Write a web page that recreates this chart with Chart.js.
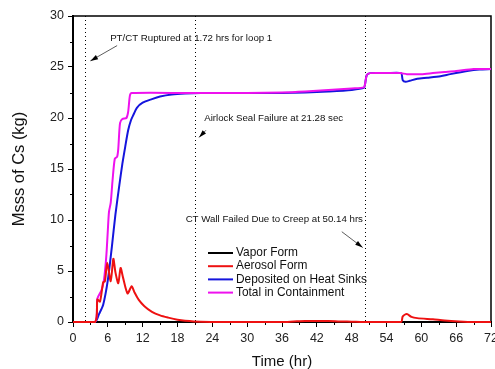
<!DOCTYPE html>
<html>
<head>
<meta charset="utf-8">
<script src="https://cdn.jsdelivr.net/npm/chart.js@4/dist/chart.umd.min.js"></script>
<style>
  html, body { margin: 0; padding: 0; background: #fff; }
  #wrap { width: 495px; height: 369px; }
</style>
</head>
<body>
<div id="wrap"><canvas id="chart-cs"></canvas></div>
<script>
// ── data (time in hr, mass in kg) ──
const vaporT = [0, 72];
const vaporY = [0, 0];

const aerosolT = [0, 3.8, 4.2, 4.65, 5.2, 5.5, 5.9, 6.5, 6.95, 7.3, 7.8, 8.2, 8.6, 9.4, 10.1, 10.6, 11.3, 12.3, 13.6, 15, 16.4, 18, 19.3, 22, 30, 36, 38, 40, 44, 46, 48, 50, 56.5, 56.8, 57.5, 58.3, 59.3, 62, 64, 66.5, 69, 72];
const aerosolY = [0, 0, 2.2, 2.0, 3.9, 4.0, 5.8, 4.0, 6.2, 4.9, 3.8, 5.3, 4.4, 2.8, 3.5, 2.9, 2.2, 1.55, 1.0, 0.65, 0.43, 0.22, 0.12, 0.03, 0, 0, 0.05, 0.1, 0.1, 0.05, 0.03, 0, 0, 0.55, 0.78, 0.5, 0.38, 0.26, 0.15, 0.06, 0, 0];

const depositT = [0, 3.8, 4.5, 5.2, 6.0, 6.7, 7.3, 8.0, 8.5, 9.0, 9.5, 10.0, 10.4, 11, 12, 13.6, 15, 17, 19.3, 22, 30, 36, 40, 44, 48, 50.1, 50.3, 50.6, 51.2, 54, 56.5, 56.8, 57.3, 58, 59.3, 61, 63.3, 65, 67.9, 70, 72];
const depositY = [0, 0, 0.8, 1.7, 4.1, 7.4, 10.5, 13.5, 15.5, 17.2, 18.8, 19.8, 20.3, 21.0, 21.5, 21.85, 22.1, 22.3, 22.4, 22.45, 22.45, 22.45, 22.5, 22.6, 22.75, 22.95, 23.3, 24.2, 24.4, 24.4, 24.4, 23.7, 23.55, 23.65, 23.85, 23.95, 24.1, 24.3, 24.6, 24.75, 24.8];

const totalT = [0, 3.8, 4.2, 4.9, 5.3, 5.6, 5.8, 6.0, 6.2, 6.5, 6.8, 7.2, 7.6, 7.8, 8.1, 8.5, 9.2, 9.5, 9.8, 10.1, 20, 30, 36, 40, 44, 48, 50.1, 50.3, 50.6, 51.2, 54, 56.4, 57.5, 60, 62, 64, 66, 69, 72];
const totalY = [0, 0, 2.3, 3.1, 4.0, 5.5, 7.0, 9.0, 10.8, 11.7, 13.8, 16.0, 16.2, 17.0, 19.5, 19.9, 20.0, 20.6, 22.2, 22.45, 22.45, 22.45, 22.5, 22.6, 22.75, 22.9, 23.0, 23.3, 24.2, 24.4, 24.4, 24.4, 24.3, 24.3, 24.4, 24.5, 24.6, 24.8, 24.8];

const xTicks = [0, 6, 12, 18, 24, 30, 36, 42, 48, 54, 60, 66, 72];
const yTicks = [0, 5, 10, 15, 20, 25, 30];

// event markers (hr) and their notes
const eventTimes = [2.0, 21.1, 50.3];
const notes = [
  { text: 'PT/CT Ruptured at 1.72 hrs for loop 1', x: 6.4, y: 27.8, from: [7.6, 27.1], to: [3.0, 25.6] },
  { text: 'Airlock Seal Failure at 21.28 sec', x: 22.6, y: 20.0, from: [22.9, 18.8], to: [21.7, 18.1] },
  { text: 'CT Wall Failed Due to Creep at 50.14 hrs', x: 19.4, y: 10.1, from: [46.3, 8.85], to: [49.9, 7.3] },
];

const pts = (t, y) => t.map((v, i) => ({ x: v, y: y[i] }));
const FONT = '"Liberation Sans", Arial, sans-serif';

// frame, minor ticks, dotted markers, notes and legend
const decor = {
  id: 'decor',
  beforeDatasetsDraw(chart) {
    const { ctx, chartArea: a, scales: { x, y } } = chart;
    ctx.save();
    ctx.strokeStyle = '#000';
    ctx.lineWidth = 1.5;
    ctx.beginPath();
    ctx.moveTo(a.left, a.top); ctx.lineTo(a.right, a.top); ctx.lineTo(a.right, a.bottom);
    ctx.stroke();
    // minor ticks
    ctx.lineWidth = 1;
    ctx.beginPath();
    for (let v = 3; v < 72; v += 6) {
      const px = Math.round(x.getPixelForValue(v)) + 0.5;
      ctx.moveTo(px, a.bottom); ctx.lineTo(px, a.bottom + 3);
    }
    for (let v = 2.5; v < 30; v += 5) {
      const py = Math.round(y.getPixelForValue(v)) + 0.5;
      ctx.moveTo(a.left, py); ctx.lineTo(a.left - 3, py);
    }
    ctx.stroke();
    // dotted event lines
    ctx.setLineDash([1, 3]);
    ctx.beginPath();
    eventTimes.forEach(t => {
      const px = Math.round(x.getPixelForValue(t)) + 0.5;
      ctx.moveTo(px, a.top); ctx.lineTo(px, a.bottom);
    });
    ctx.stroke();
    ctx.restore();
  },
  afterDraw(chart) {
    const { ctx, scales: { x, y } } = chart;
    ctx.save();
    ctx.textBaseline = 'middle';
    notes.forEach(n => {
      ctx.font = '9.7px ' + FONT;
      ctx.fillStyle = '#111';
      ctx.fillText(n.text, x.getPixelForValue(n.x), y.getPixelForValue(n.y));
      const x0 = x.getPixelForValue(n.from[0]), y0 = y.getPixelForValue(n.from[1]);
      const x1 = x.getPixelForValue(n.to[0]), y1 = y.getPixelForValue(n.to[1]);
      ctx.strokeStyle = '#333';
      ctx.lineWidth = 0.8;
      ctx.beginPath(); ctx.moveTo(x0, y0); ctx.lineTo(x1, y1); ctx.stroke();
      const ang = Math.atan2(y1 - y0, x1 - x0);
      ctx.beginPath();
      ctx.moveTo(x1, y1);
      ctx.lineTo(x1 - 8 * Math.cos(ang - 0.3), y1 - 8 * Math.sin(ang - 0.3));
      ctx.lineTo(x1 - 8 * Math.cos(ang + 0.3), y1 - 8 * Math.sin(ang + 0.3));
      ctx.closePath();
      ctx.fillStyle = '#000';
      ctx.fill();
    });
    // legend
    const lx = 208, ly = 253, step = 13.2;
    chart.data.datasets.forEach((ds, i) => {
      const yy = ly + i * step;
      ctx.strokeStyle = ds.borderColor;
      ctx.lineWidth = 2;
      ctx.beginPath(); ctx.moveTo(lx, yy); ctx.lineTo(lx + 25, yy); ctx.stroke();
      ctx.fillStyle = '#111';
      ctx.font = '11.9px ' + FONT;
      ctx.fillText(ds.label, lx + 28, yy);
    });
    ctx.restore();
  }
};

new Chart(document.getElementById('chart-cs'), {
  type: 'line',
  data: {
    datasets: [
      { label: 'Vapor Form', data: pts(vaporT, vaporY), borderColor: '#000000', order: 3 },
      { label: 'Aerosol Form', data: pts(aerosolT, aerosolY), borderColor: '#ee1111', order: 0 },
      { label: 'Deposited on Heat Sinks', data: pts(depositT, depositY), borderColor: '#1515dd', order: 2 },
      { label: 'Total in Containment', data: pts(totalT, totalY), borderColor: '#ee11ee', order: 1 },
    ].map(d => Object.assign(d, { borderWidth: 2, pointRadius: 0, tension: 0.25, fill: false, clip: 4 }))
  },
  options: {
    responsive: true, maintainAspectRatio: false, animation: false,
    layout: { padding: { left: 0, right: 4, top: 16, bottom: 0 } },
    plugins: { legend: { display: false }, tooltip: { enabled: false } },
    scales: {
      x: {
        type: 'linear', min: 0, max: 72,
        afterFit: s => { s.height = 47; s.paddingLeft = 0; s.paddingRight = 0; },
        afterBuildTicks: s => { s.ticks = xTicks.map(v => ({ value: v })); },
        ticks: { autoSkip: false, maxRotation: 0, padding: 4, color: '#222', font: { family: FONT, size: 12.5 } },
        grid: { drawOnChartArea: false, tickLength: 5, color: '#000', lineWidth: 1 },
        border: { display: true, color: '#000', width: 2 },
        title: { display: true, text: 'Time (hr)', color: '#111', padding: { top: 0, bottom: 0 }, font: { family: FONT, size: 15, lineHeight: 1 } }
      },
      y: {
        min: 0, max: 30,
        afterFit: s => { s.width = 73; s.paddingTop = 0; s.paddingBottom = 0; },
        afterBuildTicks: s => { s.ticks = yTicks.map(v => ({ value: v })); },
        ticks: { padding: 4, color: '#222', font: { family: FONT, size: 12.5 } },
        grid: { drawOnChartArea: false, tickLength: 5, color: '#000', lineWidth: 1 },
        border: { display: true, color: '#000', width: 2 },
        title: { display: true, text: 'Msss of Cs (kg)', color: '#111', padding: { top: 11, bottom: 0 }, font: { family: FONT, size: 16.5, lineHeight: 1 } }
      }
    }
  },
  plugins: [decor]
});
</script>
</body>
</html>
